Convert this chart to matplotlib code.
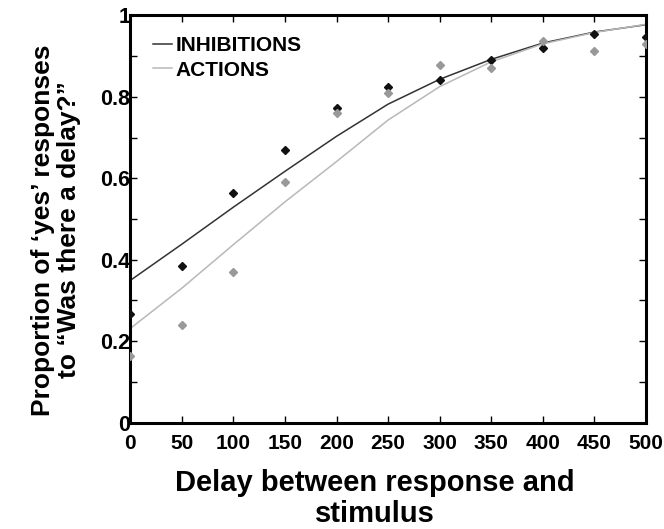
import numpy as np
import matplotlib.pyplot as plt

plt.rcParams['font.family'] = ['Liberation Sans', 'DejaVu Sans']
plt.rcParams['font.weight'] = 'bold'

# observed proportions
delay = [0, 50, 100, 150, 200, 250, 300, 350, 400, 450, 500]
inhib_pts = [0.267, 0.385, 0.565, 0.670, 0.772, 0.824, 0.842, 0.891, 0.920, 0.954, 0.948]
action_pts = [0.163, 0.241, 0.369, 0.592, 0.760, 0.810, 0.878, 0.870, 0.938, 0.912, 0.929]

# fitted curves
fit_x = [0, 50, 100, 150, 200, 250, 300, 350, 400, 450, 500]
inhib_fit = [0.349, 0.438, 0.529, 0.617, 0.703, 0.782, 0.843, 0.892, 0.932, 0.959, 0.977]
action_fit = [0.231, 0.330, 0.437, 0.542, 0.641, 0.743, 0.825, 0.886, 0.930, 0.958, 0.978]

fig = plt.figure(figsize=(6.64, 5.29), dpi=100)
ax = fig.add_axes([0.196, 0.201, 0.777, 0.770])

ax.plot(fit_x, inhib_fit, color='#333333', lw=1.1, label='INHIBITIONS')
ax.plot(fit_x, action_fit, color='#b8b8b8', lw=1.1, label='ACTIONS')
ax.plot(delay, inhib_pts, 'D', color='#111111', ms=4.3, zorder=3)
ax.plot(delay, action_pts, 'D', color='#999999', ms=4.3, zorder=3)

ax.set_xlim(0, 500)
ax.set_ylim(0, 1)
ax.set_xticks(np.arange(0, 501, 50))
ax.set_yticks([0, 0.2, 0.4, 0.6, 0.8, 1])
ax.set_yticklabels(['0', '0.2', '0.4', '0.6', '0.8', '1'])
ax.set_yticks(np.arange(0.1, 1, 0.2), minor=True)
ax.tick_params(which='both', direction='in', top=True, right=True,
               width=1, length=5)
ax.tick_params(axis='y', labelsize=15.5, pad=0)
ax.tick_params(axis='x', labelsize=15, pad=8)
for s in ax.spines.values():
    s.set_linewidth(2.2)

ax.set_xlabel('Delay between response and\nstimulus', fontsize=21,
              fontweight='bold', labelpad=12, linespacing=1.12)
ax.xaxis.label.set_x(0.475)
ax.set_ylabel('Proportion of ‘yes’ responses\nto “Was there a delay?”',
              fontsize=19, fontweight='bold', labelpad=14, linespacing=1.1)
ax.yaxis.label.set_y(0.473)

ax.legend(loc='upper left', bbox_to_anchor=(0.008, 0.995), frameon=False,
          handlelength=0.9, handletextpad=0.2, labelspacing=0.27,
          prop={'size': 15, 'weight': 'bold'})

fig.savefig('out.png', dpi=100)
